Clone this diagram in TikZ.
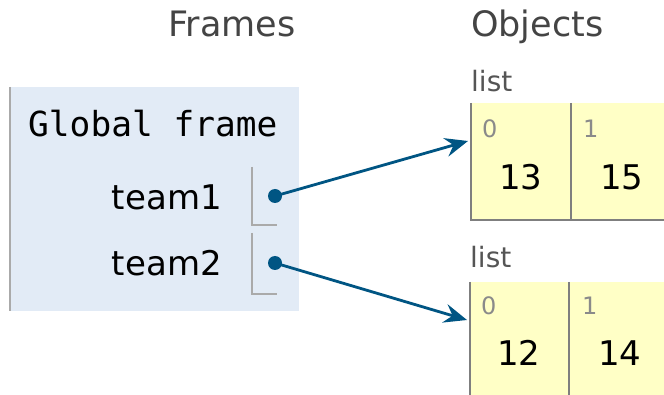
\documentclass[tikz,border=0pt]{standalone}
\usepackage{fontspec}
\setmainfont{DejaVu Sans}
\setmonofont{DejaVu Sans Mono}
\usetikzlibrary{arrows.meta}
\definecolor{framebg}{HTML}{E2EBF6}
\definecolor{listbg}{HTML}{FFFFC6}
\definecolor{ptr}{HTML}{005583}
\definecolor{hdr}{HTML}{444444}
\definecolor{lbl}{HTML}{555555}
\definecolor{idx}{HTML}{8A8A8A}
\definecolor{bordergray}{HTML}{AAAAAA}
\definecolor{cellline}{HTML}{7F7F7F}
\tikzset{
  header/.style={inner sep=0pt, anchor=base west, text=hdr, font=\fontsize{35}{40}\selectfont},
  framehdr/.style={inner sep=0pt, anchor=base west, font=\ttfamily\fontsize{34.5}{40}\selectfont},
  varname/.style={inner sep=0pt, anchor=base east, font=\fontsize{34}{40}\selectfont},
  listlbl/.style={inner sep=0pt, anchor=base west, text=lbl, font=\fontsize{28}{32}\selectfont},
  idxlbl/.style={inner sep=0pt, anchor=base west, text=idx, font=\fontsize{24}{28}\selectfont},
  val/.style={inner sep=0pt, anchor=base, font=\fontsize{34}{40}\selectfont},
  bracket/.style={draw=bordergray, line width=1.5pt},
  dotnode/.style={circle, fill=ptr, inner sep=0pt, minimum size=14pt},
  ptrline/.style={draw=ptr, line width=2.8pt, -{Stealth[length=23pt, width=19pt, inset=8pt]}},
  cellborder/.style={draw=cellline, line width=1.6pt},
}
\begin{document}
\begin{tikzpicture}[x=1pt, y=-1pt]
\useasboundingbox (0,0) rectangle (664,395);
% headers
\node[header, anchor=base] (hframes) at (232,37) {Frames};
\node[header] (hobjects) at (471,37) {Objects};
% frame
\fill[framebg] (10,87) rectangle (299,311);
\draw[draw=bordergray, line width=2pt] (10,87) -- (10,311);
\node[framehdr] (gf) at (28,137) {Global frame};
\node[varname] (t1) at (222,210) {team1};
\node[varname] (t2) at (222,276) {team2};
\draw[bracket] (252,167) -- (252,225) -- (277,225);
\draw[bracket] (252,233) -- (252,294) -- (277,294);
\node[dotnode] (d1) at (275,196) {};
\node[dotnode] (d2) at (275,263) {};
% list 1
\node[listlbl] (l1) at (471,92) {list};
\fill[listbg] (471,103) rectangle (664,220);
\draw[cellborder] (471,103) -- (471,220) -- (664,220);
\draw[cellborder] (571,103) -- (571,220);
\node[idxlbl] (i10) at (482,138) {0};
\node[idxlbl] (i11) at (583,138) {1};
\node[val] (v10) at (521,190) {13};
\node[val] (v11) at (622,190) {15};
\coordinate (a1) at (468,141);
% list 2
\node[listlbl] (l2) at (470,268) {list};
\fill[listbg] (470,282) rectangle (664,395);
\draw[cellborder] (470,282) -- (470,395);
\draw[cellborder] (569,282) -- (569,395);
\node[idxlbl] (i20) at (481,315) {0};
\node[idxlbl] (i21) at (582,315) {1};
\node[val] (v20) at (519,366) {12};
\node[val] (v21) at (620,366) {14};
\coordinate (a2) at (467,320);
% pointers
\draw[ptrline] (d1.center) -- (a1);
\draw[ptrline] (d2.center) -- (a2);
\end{tikzpicture}
\end{document}
